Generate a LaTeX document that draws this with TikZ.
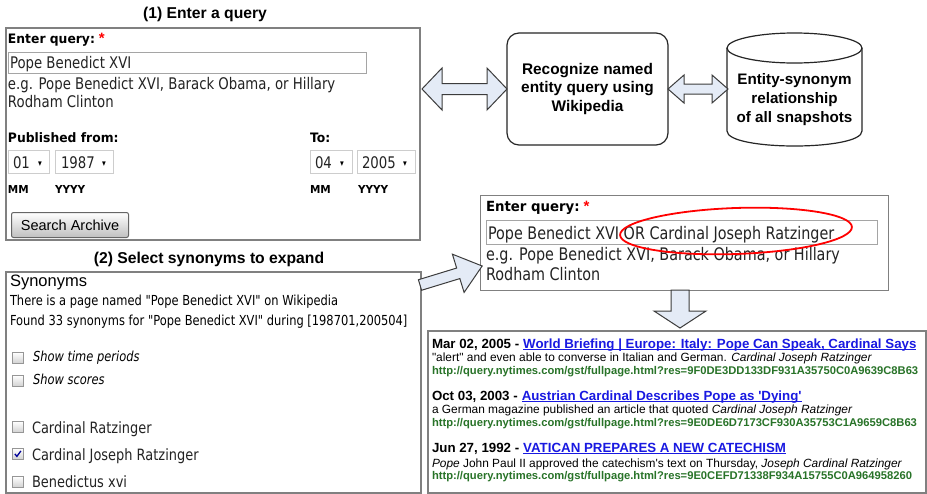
\documentclass[tikz,border=0pt]{standalone}
\usepackage{fontspec}
\setmainfont{Liberation Sans}[Ligatures=TeXOff]
\newfontfamily\tah[FakeStretch=0.83]{DejaVu Sans}
\newfontfamily\tahw[FakeStretch=0.95]{DejaVu Sans}
\usetikzlibrary{calc}
\definecolor{arrowfill}{RGB}{228,235,246}
\definecolor{arrowline}{RGB}{60,60,60}
\definecolor{panelgray}{RGB}{128,128,128}
\definecolor{linkblue}{RGB}{25,25,225}
\definecolor{urlgreen}{RGB}{40,115,40}
\definecolor{inputgray}{RGB}{165,165,165}
\definecolor{dropgray}{RGB}{205,205,205}
\definecolor{uitext}{RGB}{35,35,35}
\newcommand{\dblarr}[6]{%
  \filldraw[blockarrow] (#1,#3) -- (#1+#6,#3-#5) -- (#1+#6,#3-#4) -- (#2-#6,#3-#4) -- (#2-#6,#3-#5) -- (#2,#3) -- (#2-#6,#3+#5) -- (#2-#6,#3+#4) -- (#1+#6,#3+#4) -- (#1+#6,#3+#5) -- cycle;}
\tikzset{
  panel/.style={draw=panelgray, line width=1.5pt, fill=white, inner sep=0, anchor=north west},
  txt/.style={anchor=base west, inner sep=0, outer sep=0, text=black},
  title/.style={anchor=base, inner sep=0, font=\fontsize{15.7}{18}\selectfont\bfseries},
  ui/.style={txt, text=uitext, font=\tah\fontsize{16}{19}\selectfont},
  uic/.style={txt, text=uitext, font=\tah\fontsize{15.6}{19}\selectfont},
  uib/.style={txt, font=\tahw\fontsize{13}{16}\selectfont\bfseries},
  uiL/.style={txt, text=uitext, font=\tah\fontsize{17.3}{20}\selectfont},
  uibL/.style={txt, font=\tahw\fontsize{14}{16}\selectfont\bfseries},
  small/.style={txt, font=\tah\fontsize{13.8}{16}\selectfont},
  smallit/.style={txt, font=\tah\fontsize{13.8}{16}\selectfont\itshape},
  tiny/.style={txt, font=\tahw\fontsize{11}{13}\selectfont\bfseries},
  star/.style={txt, text=red, font=\fontsize{15}{15}\selectfont\bfseries},
  inputbox/.style={draw=inputgray, line width=0.9pt, fill=white, anchor=north west, inner sep=0},
  dropbox/.style={draw=dropgray, line width=0.9pt, fill=white, anchor=north west, inner sep=0},
  dropar/.style={txt, font=\tah\fontsize{9}{9}\selectfont},
  chk/.style={draw={rgb,255:red,150;green,150;blue,150}, top color=white, bottom color=black!18, minimum size=11pt, inner sep=0, anchor=north west, line width=0.8pt},
  blockarrow/.style={draw=arrowline, fill=arrowfill, line width=1pt, line join=miter},
  flowbox/.style={draw=black!85, line width=1.2pt, fill=white, align=center, font=\fontsize{15.4}{18.5}\selectfont\bfseries},
  date/.style={txt, font=\fontsize{13.3}{15}\selectfont\bfseries},
  link/.style={txt, text=linkblue, font=\fontsize{13.3}{15}\selectfont\bfseries},
  snip/.style={txt, font=\fontsize{11.9}{13}\selectfont},
  url/.style={txt, text=urlgreen, font=\fontsize{11.2}{13}\selectfont\bfseries},
}
\begin{document}
\begin{tikzpicture}[x=1pt,y=-1pt]
\useasboundingbox (0,0) rectangle (927,493);
\fill[white] (0,0) rectangle (927,493);

% ---------- Panel 1 ----------
\node[title] (t1) at (205,18) {(1) Enter a query};
\node[panel, minimum width=414pt, minimum height=212pt] (p1) at (5,27) {};
\node[uib] (q1lab) at (8,43) {Enter query:};
\node[star] (q1star) at ($(q1lab.base east)+(4,0)$) {*};
\node[inputbox, minimum width=358pt, minimum height=21pt] (q1box) at (8,52) {};
\node[ui] (q1in) at (10,68) {Pope Benedict XVI};
\node[ui] (q1eg) at (8,89) {e.g. Pope Benedict XVI, Barack Obama, or Hillary};
\node[ui] (q1eg2) at (8,107) {Rodham Clinton};
\node[uib] (pub) at (8,142) {Published from:};
\node[uib] (to) at (310,142) {To:};
\node[dropbox, minimum width=41pt, minimum height=23pt] (d1) at (8,150) {};
\node[dropbox, minimum width=58pt, minimum height=23pt] (d2) at (55,150) {};
\node[dropbox, minimum width=42pt, minimum height=23pt] (d3) at (310,150) {};
\node[dropbox, minimum width=58pt, minimum height=23pt] (d4) at (357,150) {};
\node[ui] (d1t) at (13,168) {01};
\node[dropar] (d1a) at (38,166) {▾};
\node[ui] (d2t) at (61,168) {1987};
\node[dropar] (d2a) at (102,166) {▾};
\node[ui] (d3t) at (315,168) {04};
\node[dropar] (d3a) at (340,166) {▾};
\node[ui] (d4t) at (362,168) {2005};
\node[dropar] (d4a) at (403,166) {▾};
\node[tiny] (mm1) at (8,193) {MM};
\node[tiny] (yy1) at (55,193) {YYYY};
\node[tiny] (mm2) at (310,193) {MM};
\node[tiny] (yy2) at (358,193) {YYYY};
\node[draw=black!60, line width=1pt, rounded corners=2pt, top color=white, bottom color=black!25,
      minimum width=117pt, minimum height=25pt, inner sep=0, anchor=north west,
      font=\fontsize{14.5}{16}\selectfont] (btn) at (11,212) {Search Archive};

% ---------- Panel 2 ----------
\node[title] (t2) at (209,263) {(2) Select synonyms to expand};
\node[panel, minimum width=415pt, minimum height=221pt] (p2) at (5,271) {};
\node[txt, font=\fontsize{16.5}{18}\selectfont] (syn) at (10,286) {Synonyms};
\node[small] (s1) at (10,305) {There is a page named "Pope Benedict XVI" on Wikipedia};
\node[small] (s2) at (10,325) {Found 33 synonyms for "Pope Benedict XVI" during [198701,200504]};
\node[chk] (c1) at (12,352) {};
\node[smallit] (c1t) at (33,361) {Show time periods};
\node[chk] (c2) at (12,375) {};
\node[smallit] (c2t) at (33,384) {Show scores};
\node[chk] (c3) at (12,421) {};
\node[uic] (c3t) at (32,433) {Cardinal Ratzinger};
\node[chk] (c4) at (12,448) {};
\draw[blue!60!black, line width=1.3pt] ($(c4.center)+(-3,0)$) -- ($(c4.center)+(-1,2.5)$) -- ($(c4.center)+(3,-3)$);
\node[uic] (c4t) at (32,460) {Cardinal Joseph Ratzinger};
\node[chk] (c5) at (12,476) {};
\node[uic] (c5t) at (32,487) {Benedictus xvi};

% ---------- Flow boxes ----------
\node[flowbox, rounded corners=12pt, minimum width=161pt, minimum height=112pt] (rec) at (587.5,89)
  {Recognize named\\entity query using\\Wikipedia};
\draw[draw=black!85, line width=1.2pt, fill=white] (727,48) -- (727,131) .. controls (727,151) and (862,151) .. (862,131) -- (862,48);
\draw[draw=black!85, line width=1.2pt, fill=white] (794.5,48) ellipse [x radius=67.5, y radius=15];
\node[align=center, inner sep=0, font=\fontsize{15.2}{19}\selectfont\bfseries] (cyl) at (794.5,100)
  {Entity-synonym\\relationship\\of all snapshots};

\dblarr{422}{507}{89}{5.5}{21}{20}
\dblarr{668}{728}{89}{5}{14}{16}

% ---------- Expanded query ----------
\node[panel, line width=1.2pt, minimum width=408pt, minimum height=95pt] (p3) at (480,195) {};
\node[uibL] (q2lab) at (486,211) {Enter query:};
\node[star] (q2star) at ($(q2lab.base east)+(4,0)$) {*};
\node[inputbox, minimum width=391pt, minimum height=24pt] (q2box) at (486,220) {};
\node[uiL] (q2in) at (488,239) {Pope Benedict XVI OR Cardinal Joseph Ratzinger};
\node[uiL] (q2eg) at (486,260) {e.g. Pope Benedict XVI, Barack Obama, or Hillary};
\node[uiL] (q2eg2) at (486,280) {Rodham Clinton};
\draw[red, line width=1.8pt, rotate around={2:(736,231)}] (736,231) ellipse [x radius=116, y radius=23];

% arrow from panel 2 to expanded query
\begin{scope}[shift={(420,285)}, rotate=17]
  \filldraw[blockarrow] (0,-5.5) -- (40,-5.5) -- (40,-20) -- (65,0) -- (40,20) -- (40,5.5) -- (0,5.5) -- cycle;
\end{scope}
% down arrow
\filldraw[blockarrow] (671,290) -- (689,290) -- (689,311) -- (706,311) -- (680,328) -- (654,311) -- (671,311) -- cycle;

% ---------- Results ----------
\node[panel, minimum width=498pt, minimum height=162pt] (p4) at (427,330) {};
\node[date] (r1d) at (432,348) {Mar 02, 2005 -};
\node[link] (r1l) at ($(r1d.base east)+(4,0)$) {World Briefing | Europe: Italy: Pope Can Speak, Cardinal Says};
\draw[linkblue, line width=0.8pt] ($(r1l.base west)+(0,1.8)$) -- ($(r1l.base east)+(0,1.8)$);
\node[snip] (r1s) at (432,361) {"alert" and even able to converse in Italian and German. \textit{Cardinal Joseph Ratzinger}};
\node[url] (r1u) at (432,374) {http://query.nytimes.com/gst/fullpage.html?res=9F0DE3DD133DF931A35750C0A9639C8B63};

\node[date] (r2d) at (432,400) {Oct 03, 2003 -};
\node[link] (r2l) at ($(r2d.base east)+(4,0)$) {Austrian Cardinal Describes Pope as 'Dying'};
\draw[linkblue, line width=0.8pt] ($(r2l.base west)+(0,1.8)$) -- ($(r2l.base east)+(0,1.8)$);
\node[snip] (r2s) at (432,413) {a German magazine published an article that quoted \textit{Cardinal Joseph Ratzinger}};
\node[url] (r2u) at (432,426) {http://query.nytimes.com/gst/fullpage.html?res=9E0DE6D7173CF930A35753C1A9659C8B63};

\node[date] (r3d) at (432,452) {Jun 27, 1992 -};
\node[link] (r3l) at ($(r3d.base east)+(4,0)$) {VATICAN PREPARES A NEW CATECHISM};
\draw[linkblue, line width=0.8pt] ($(r3l.base west)+(0,1.8)$) -- ($(r3l.base east)+(0,1.8)$);
\node[snip] (r3s) at (432,467) {\textit{Pope} John Paul II approved the catechism's text on Thursday, \textit{Joseph Cardinal Ratzinger}};
\node[url] (r3u) at (432,479) {http://query.nytimes.com/gst/fullpage.html?res=9E0CEFD71338F934A15755C0A964958260};
\end{tikzpicture}
\end{document}
